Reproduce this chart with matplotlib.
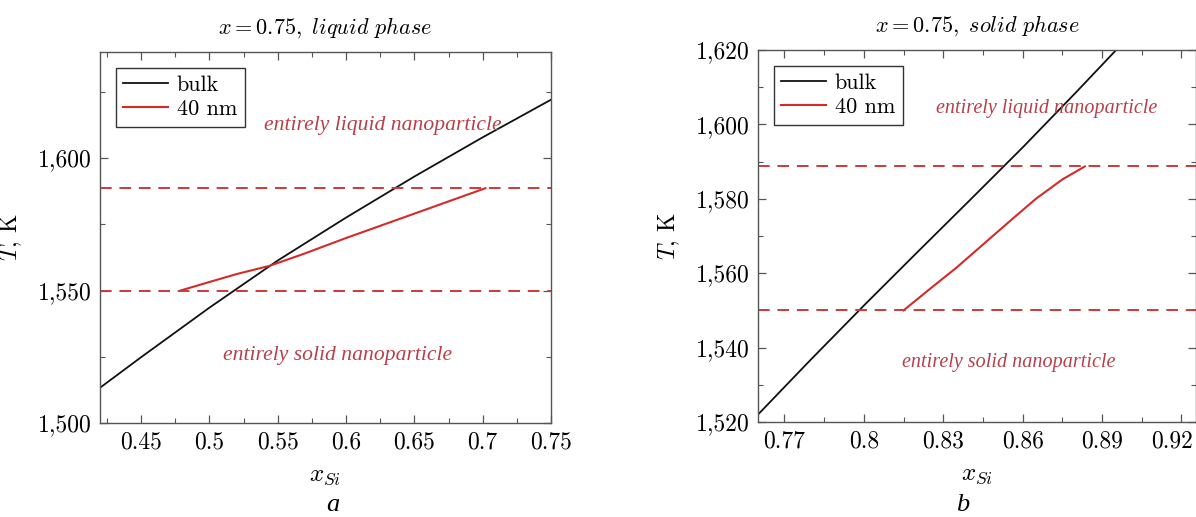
import numpy as np
import matplotlib
matplotlib.use("Agg")
import matplotlib.pyplot as plt
from matplotlib.ticker import FuncFormatter, MultipleLocator, FixedLocator
from matplotlib.transforms import ScaledTranslation

plt.rcParams['font.family'] = 'serif'
plt.rcParams['font.serif'] = ['cmr10', 'DejaVu Serif']
plt.rcParams['mathtext.fontset'] = 'cm'
plt.rcParams['axes.formatter.use_mathtext'] = True

# panel a: liquid phase
liq_bulk_x = [0.42, 0.45, 0.50, 0.55, 0.60, 0.65, 0.70, 0.75]
liq_bulk_T = [1513.3, 1524.8, 1543.5, 1561.3, 1577.5, 1593.0, 1607.8, 1622.0]
liq_nano_x = [0.479, 0.50, 0.52, 0.544, 0.57, 0.60, 0.65, 0.702]
liq_nano_T = [1550.0, 1553.2, 1556.2, 1559.3, 1564.0, 1569.8, 1579.0, 1588.6]
liq_xticks = [0.45, 0.5, 0.55, 0.6, 0.65, 0.7, 0.75]

# panel b: solid phase
sol_bulk_x = [0.76, 0.78, 0.80, 0.82, 0.84, 0.86, 0.88, 0.90]
sol_bulk_T = [1522.0, 1536.8, 1551.3, 1565.5, 1579.6, 1593.8, 1608.5, 1623.5]
sol_nano_x = [0.815, 0.825, 0.835, 0.845, 0.855, 0.865, 0.875, 0.8835]
sol_nano_T = [1550.0, 1555.8, 1561.5, 1567.7, 1573.9, 1580.0, 1585.2, 1588.7]
sol_xticks = [0.77, 0.8, 0.83, 0.86, 0.89, 0.92]

T_solid = 1550.0
T_liquid = 1588.7

black = '#111111'
red = '#d42a2a'
dash_red = '#cc3a3a'
text_red = '#b8404a'
spine = '#555555'

fig = plt.figure(figsize=(11.96, 5.17), dpi=100)
ax1 = fig.add_axes([100 / 1196, 94 / 517, 451 / 1196, 371 / 517])
ax2 = fig.add_axes([758 / 1196, 95 / 517, 438 / 1196, 372 / 517])


def style(ax, xticks, ymaj):
    step = xticks[1] - xticks[0]
    ax.xaxis.set_major_locator(FixedLocator(xticks))
    minors = [xticks[0] - step / 2] + [t + step / 2 for t in xticks]
    ax.xaxis.set_minor_locator(FixedLocator(minors))
    ax.yaxis.set_major_locator(MultipleLocator(ymaj))
    ax.yaxis.set_minor_locator(MultipleLocator(ymaj / 2))
    ax.tick_params(which='both', direction='in', top=True, right=True,
                   color=spine, labelsize=17, pad=6)
    ax.tick_params(which='major', length=6, width=0.9)
    ax.tick_params(which='minor', length=3.5, width=0.8)
    for s in ax.spines.values():
        s.set_color(spine)
        s.set_linewidth(1.0)
    ax.yaxis.set_major_formatter(FuncFormatter(lambda v, p: f"{v:,.0f}"))
    ax.xaxis.set_major_formatter(FuncFormatter(lambda v, p: f"{v:g}"))
    ax.set_xlabel(r"$x_{Si}$", fontsize=18, labelpad=8)
    ax.set_ylabel(r"$T$, K", fontsize=17, labelpad=10)


# a
ax1.plot(liq_bulk_x, liq_bulk_T, color=black, lw=1.3, label='bulk')
ax1.plot(liq_nano_x, liq_nano_T, color=red, lw=1.5, label='40 nm')
ax1.axhline(T_liquid, color=dash_red, lw=1.4, ls=(0, (6, 4)))
ax1.axhline(T_solid, color=dash_red, lw=1.4, ls=(0, (6, 4)))
ax1.set_xlim(0.42, 0.75)
ax1.set_ylim(1500, 1640)
style(ax1, liq_xticks, 50)
ax1.text(0.627, 1612.3, 'entirely liquid nanoparticle', color=text_red,
         fontsize=15.6, family='Liberation Serif', style='italic',
         ha='center', va='center')
ax1.text(0.594, 1525.3, 'entirely solid nanoparticle', color=text_red,
         fontsize=15.6, family='Liberation Serif', style='italic',
         ha='center', va='center')
ax1.set_title(r"$x = 0.75,\ \mathit{liquid\ phase}$", fontsize=16, pad=13)

# b
ax2.plot(sol_bulk_x, sol_bulk_T, color=black, lw=1.3, label='bulk')
ax2.plot(sol_nano_x, sol_nano_T, color=red, lw=1.5, label='40 nm')
ax2.axhline(T_liquid, color=dash_red, lw=1.4, ls=(0, (6, 4)))
ax2.axhline(T_solid, color=dash_red, lw=1.4, ls=(0, (6, 4)))
ax2.set_xlim(0.76, 0.9255)
ax2.set_ylim(1520, 1620)
style(ax2, sol_xticks, 20)
ax2.text(0.869, 1604.3, 'entirely liquid nanoparticle', color=text_red,
         fontsize=14.5, family='Liberation Serif', style='italic',
         ha='center', va='center')
ax2.text(0.8546, 1536.1, 'entirely solid nanoparticle', color=text_red,
         fontsize=14.5, family='Liberation Serif', style='italic',
         ha='center', va='center')
ax2.set_title(r"$x = 0.75,\ \mathit{solid\ phase}$", fontsize=16, pad=13)

for ax in (ax1, ax2):
    leg = ax.legend(loc='upper left', fontsize=16, frameon=True, fancybox=False,
                    handlelength=2.0, handletextpad=0.4, borderpad=0.35,
                    labelspacing=0.2, borderaxespad=0.7)
    leg.get_frame().set_edgecolor('#333333')
    leg.get_frame().set_linewidth(1.0)
    leg.get_frame().set_alpha(1.0)

fig.text(333 / 1196, 1 - 505 / 517, 'a', family='Liberation Serif',
         style='italic', fontsize=19, ha='center', va='center')
fig.text(963 / 1196, 1 - 505 / 517, 'b', family='Liberation Serif',
         style='italic', fontsize=19, ha='center', va='center')

# keep the last tick label of panel b inside the picture edge
fig.canvas.draw()
last = ax2.xaxis.get_major_ticks()[-1]
last.label1.set_transform(last.label1.get_transform()
                          + ScaledTranslation(-0.09, 0, fig.dpi_scale_trans))

fig.savefig('out.png', dpi=100)
